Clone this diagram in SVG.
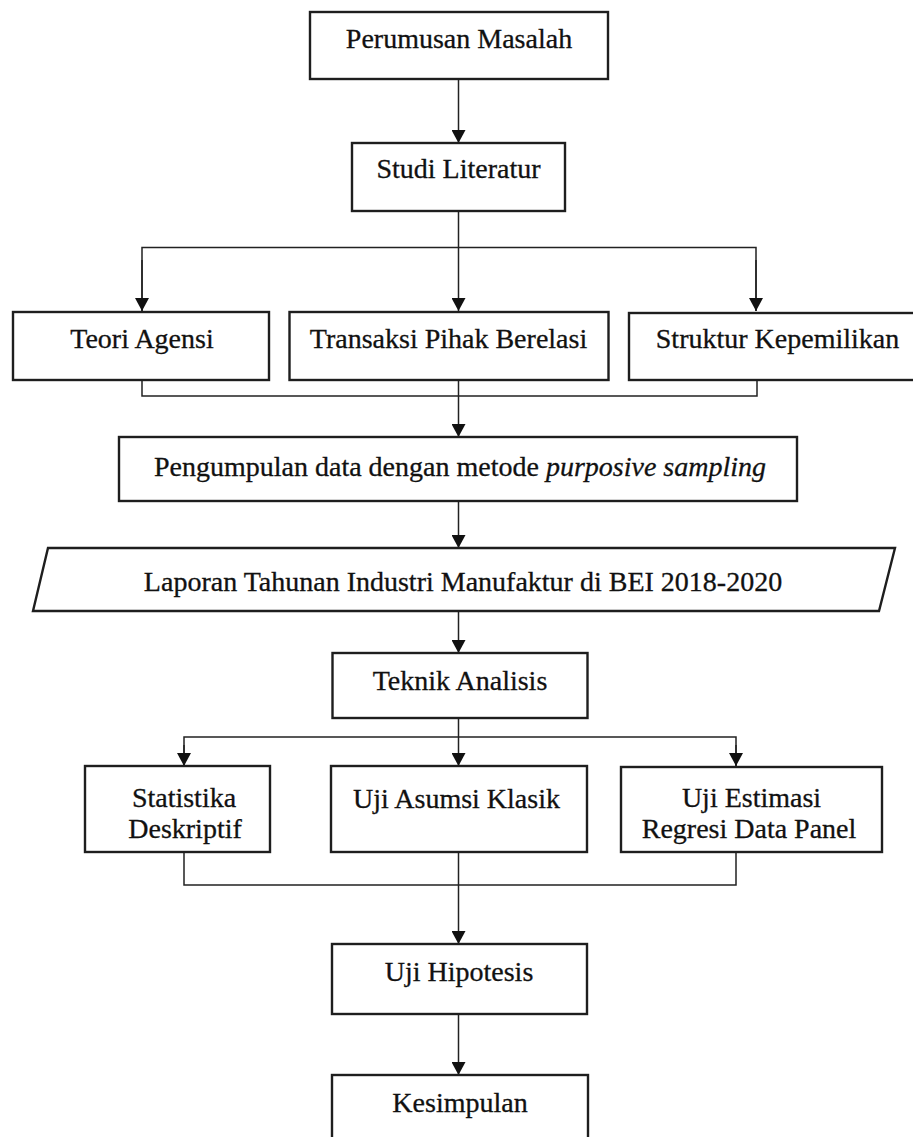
<svg xmlns="http://www.w3.org/2000/svg" width="913" height="1137" viewBox="0 0 913 1137">
<defs>
<style>
.box{fill:#fff;stroke:#1e1e1e;stroke-width:2.4}
.t{font-family:"Liberation Serif","Times New Roman",serif;font-size:28px;fill:#111;stroke:#111;stroke-width:0.3;text-anchor:middle}
.it{font-style:italic}
.ln{fill:none;stroke:#222;stroke-width:1.5}
</style>
<marker id="ad" markerUnits="userSpaceOnUse" markerWidth="13" markerHeight="14" refX="13" refY="7" orient="auto" viewBox="0 0 13 14">
<path d="M0,0 L13,7 L0,14 Z" fill="#111"/>
</marker>
</defs>
<rect width="913" height="1137" fill="#fff"/>
<g id="connectors">
<line class="ln" x1="458.5" y1="79" x2="458.5" y2="143" marker-end="url(#ad)"/>
<line class="ln" x1="458.5" y1="211" x2="458.5" y2="311" marker-end="url(#ad)"/>
<polyline class="ln" points="142,311 142,247.5 756,247.5 756,311"/>
<line class="ln" x1="142" y1="260" x2="142" y2="311" marker-end="url(#ad)"/>
<line class="ln" x1="756" y1="260" x2="756" y2="311" marker-end="url(#ad)"/>
<polyline class="ln" points="142,380 142,396 757,396 757,380"/>
<line class="ln" x1="458.5" y1="381" x2="458.5" y2="437" marker-end="url(#ad)"/>
<line class="ln" x1="458.5" y1="501" x2="458.5" y2="548" marker-end="url(#ad)"/>
<line class="ln" x1="458.5" y1="611" x2="458.5" y2="653" marker-end="url(#ad)"/>
<line class="ln" x1="458.5" y1="718" x2="458.5" y2="766" marker-end="url(#ad)"/>
<polyline class="ln" points="184,766 184,737 736,737 736,766"/>
<line class="ln" x1="184" y1="745" x2="184" y2="766" marker-end="url(#ad)"/>
<line class="ln" x1="736" y1="745" x2="736" y2="766" marker-end="url(#ad)"/>
<polyline class="ln" points="184,852 184,885 736,885 736,852"/>
<line class="ln" x1="458.5" y1="852" x2="458.5" y2="944" marker-end="url(#ad)"/>
<line class="ln" x1="458.5" y1="1014" x2="458.5" y2="1075" marker-end="url(#ad)"/>
</g>
<g id="perumusan">
<rect class="box" x="310" y="12" width="298" height="67"/>
<text class="t" x="459" y="48">Perumusan Masalah</text>
</g>
<g id="studi">
<rect class="box" x="352" y="143" width="213" height="68"/>
<text class="t" x="458.5" y="178">Studi Literatur</text>
</g>
<g id="teori">
<rect class="box" x="13" y="312" width="256" height="68"/>
<text class="t" x="142" y="348">Teori Agensi</text>
</g>
<g id="transaksi">
<rect class="box" x="289.5" y="312" width="319" height="68"/>
<text class="t" x="448.5" y="348">Transaksi Pihak Berelasi</text>
</g>
<g id="struktur">
<rect class="box" x="629" y="313" width="298" height="67"/>
<text class="t" x="777.5" y="348">Struktur Kepemilikan</text>
</g>
<g id="pengumpulan">
<rect class="box" x="119" y="437" width="678" height="64"/>
<text class="t" x="460" y="476">Pengumpulan data dengan metode <tspan class="it">purposive sampling</tspan></text>
</g>
<g id="laporan">
<polygon class="box" points="48,548 895,548 879,611 33,611"/>
<text class="t" x="463" y="591">Laporan Tahunan Industri Manufaktur di BEI 2018-2020</text>
</g>
<g id="teknik">
<rect class="box" x="332.5" y="653" width="255" height="65"/>
<text class="t" x="460" y="690">Teknik Analisis</text>
</g>
<g id="statistika">
<rect class="box" x="85" y="766" width="185" height="86"/>
<text class="t" x="184" y="807">Statistika</text>
<text class="t" x="185" y="838">Deskriptif</text>
</g>
<g id="asumsi">
<rect class="box" x="331" y="766" width="256" height="86"/>
<text class="t" x="456.5" y="808">Uji Asumsi Klasik</text>
</g>
<g id="estimasi">
<rect class="box" x="621" y="767" width="261" height="85"/>
<text class="t" x="751.5" y="807">Uji Estimasi</text>
<text class="t" x="749" y="838">Regresi Data Panel</text>
</g>
<g id="hipotesis">
<rect class="box" x="332" y="944" width="255" height="70"/>
<text class="t" x="459" y="981">Uji Hipotesis</text>
</g>
<g id="kesimpulan">
<rect class="box" x="332" y="1075" width="256" height="80"/>
<text class="t" x="460" y="1112">Kesimpulan</text>
</g>
</svg>
